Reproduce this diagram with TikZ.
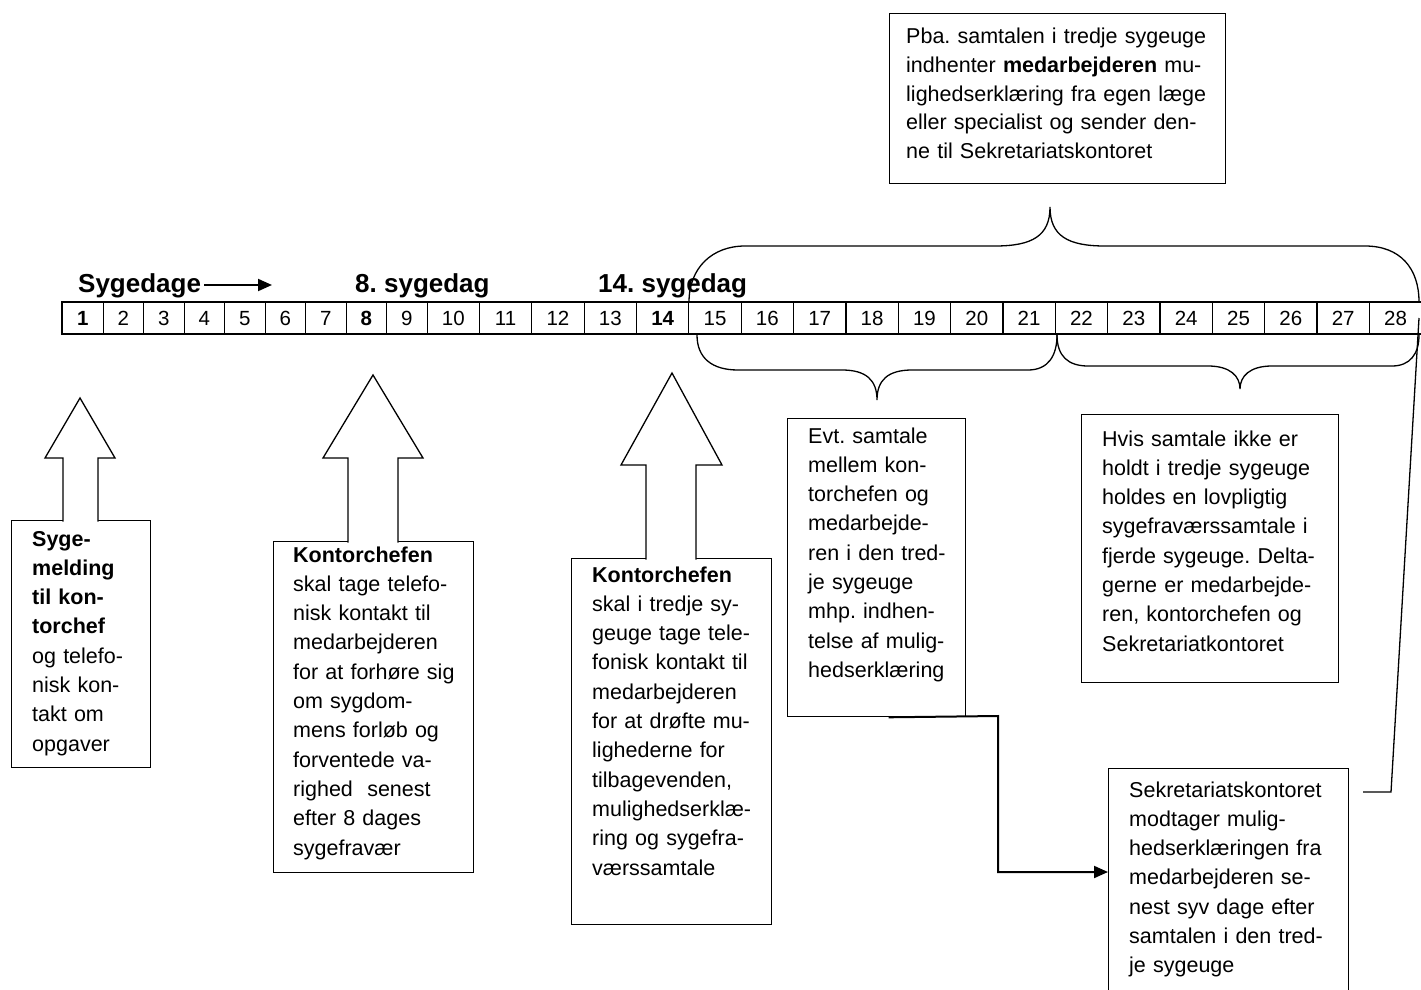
\documentclass[tikz,border=0pt]{standalone}
\usepackage{fontspec}
\setmainfont{Liberation Sans}
\usetikzlibrary{arrows.meta,calc}
\frenchspacing
\newcommand\bxf{\fontsize{21.5}{29.3}\selectfont\frenchspacing}
\newcommand\tpf{\fontsize{21.5}{28.6}\selectfont\frenchspacing}
\newcommand\hdf{\fontsize{26}{30}\selectfont\bfseries\frenchspacing}
\newcommand\clf{\fontsize{20.5}{24}\selectfont}
\begin{document}
\begin{tikzpicture}[x=1pt,y=-1pt,
 box/.style={draw, line width=1.3pt, inner sep=0pt, anchor=north west},
 txt/.style={anchor=base west, inner sep=0pt, text width=420pt, align=left, font=\bxf},
 cell/.style={draw, line width=1.2pt, inner sep=0pt, minimum height=31pt, anchor=north west, font=\clf},
 hd/.style={anchor=base west, inner sep=0pt, font=\hdf},
 brace/.style={line width=1.3pt},
 blk/.style={line width=1.3pt, fill=white, line join=miter},
 conn/.style={line width=2pt}]
\useasboundingbox (0,0) rectangle (1421,990);

% headings
\node[hd] (sd) at (78,292) {Sygedage};
\node[hd] (h8) at (355,292) {8. sygedag};
\node[hd] (h14) at (598,292) {14. sygedag};
\draw[line width=2pt, -{Triangle[length=14pt,width=12pt]}] ($(sd.base east)+(3,-7)$) -- (272,285);

% day cells
\foreach \i/\t in {1/\textbf{1},2/2,3/3,4/4,5/5,6/6,7/7,8/\textbf{8},9/9,10/10,11/11,12/12,13/13,14/\textbf{14},15/15,16/16,17/17,18/18,19/19,20/20,21/21,22/22,23/23,24/24,25/25,26/26,27/27,28/28}{
  \ifnum\i<10
    \pgfmathsetmacro\xl{62+(\i-1)*40.5}\def\w{40.5}
  \else
    \pgfmathsetmacro\xl{426.5+(\i-10)*52.35}\def\w{52.35}
  \fi
  \node[cell, minimum width=\w pt] (c\i) at (\xl,302) {\t};
}
\draw[line width=2pt] (c1.north west) rectangle (c28.south east);

% braces
\draw[brace] (689,302) .. controls (689,268) and (712,246) .. (745,246) -- (995,246)
  .. controls (1032,246) and (1050,236) .. (1050,207)
  .. controls (1050,236) and (1068,246) .. (1105,246) -- (1365,246)
  .. controls (1400,246) and (1419,268) .. (1419,302);
\draw[brace] (697,335) .. controls (697,358) and (712,370) .. (738,370) -- (842,370)
  .. controls (866,370) and (877,380) .. (877,400)
  .. controls (877,380) and (888,370) .. (912,370) -- (1028,370)
  .. controls (1048,370) and (1057,356) .. (1057,335);
\draw[brace] (1057,335) .. controls (1057,356) and (1068,366) .. (1088,366) -- (1208,366)
  .. controls (1230,366) and (1240,376) .. (1240,389)
  .. controls (1240,376) and (1250,366) .. (1272,366) -- (1392,366)
  .. controls (1410,366) and (1419,354) .. (1419,335);

% boxes
\node[box, minimum width=336pt, minimum height=170pt] (top) at (889,13) {};
\node[box, minimum width=139pt, minimum height=247pt] (b1) at (11,520) {};
\node[box, minimum width=200pt, minimum height=331pt] (b2) at (273,541) {};
\node[box, minimum width=200pt, minimum height=366pt] (b3) at (571,558) {};
\node[box, minimum width=178pt, minimum height=298pt] (evt) at (787,418) {};
\node[box, minimum width=257pt, minimum height=268pt] (hvis) at (1081,414) {};
\node[box, minimum width=240pt, minimum height=240pt] (sek) at (1108,768) {};

% block arrows
\filldraw[blk] (63,521.5) -- (63,458) -- (45,458) -- (80,398) -- (115,458) -- (98,458) -- (98,521.5);
\filldraw[blk] (348,542.5) -- (348,458) -- (323,458) -- (373,375) -- (423,458) -- (398,458) -- (398,542.5);
\filldraw[blk] (646,559.5) -- (646,465) -- (621,465) -- (672,373) -- (722,465) -- (696,465) -- (696,559.5);

% texts
\node[txt, font=\tpf] (ttop) at (906,44) {Pba. samtalen i tredje sygeuge\\indhenter \textbf{medarbejderen} mu-\\lighedserklæring fra egen læge\\eller specialist og sender den-\\ne til Sekretariatskontoret};
\node[txt] (t1) at (32,546) {{\bfseries Syge-}\\{\bfseries melding}\\{\bfseries til kon-}\\{\bfseries torchef}\\og telefo-\\nisk kon-\\takt om\\opgaver};
\node[txt] (t2) at (293,562) {{\bfseries Kontorchefen}\\skal tage telefo-\\nisk kontakt til\\medarbejderen\\for at forhøre sig\\om sygdom-\\mens forløb og\\forventede va-\\righed\ \ senest\\efter 8 dages\\sygefravær};
\node[txt] (t3) at (592,582) {{\bfseries Kontorchefen}\\skal i tredje sy-\\geuge tage tele-\\fonisk kontakt til\\medarbejderen\\for at drøfte mu-\\lighederne for\\tilbagevenden,\\mulighedserklæ-\\ring og sygefra-\\værssamtale};
\node[txt] (t4) at (808,443) {Evt. samtale\\mellem kon-\\torchefen og\\medarbejde-\\ren i den tred-\\je sygeuge\\mhp. indhen-\\telse af mulig-\\hedserklæring};
\node[txt] (t5) at (1102,446) {Hvis samtale ikke er\\holdt i tredje sygeuge\\holdes en lovpligtig\\sygefraværssamtale i\\fjerde sygeuge. Delta-\\gerne er medarbejde-\\ren, kontorchefen og\\Sekretariatkontoret};
\node[txt] (t6) at (1129,797) {Sekretariatskontoret\\modtager mulig-\\hedserklæringen fra\\medarbejderen se-\\nest syv dage efter\\samtalen i den tred-\\je sygeuge};

% connectors
\coordinate (e1) at (998,716);
\coordinate (e2) at (998,872);
\draw[conn, -{Triangle[length=14pt,width=12pt]}] ([xshift=12pt]evt.south) -- (e1) -- (e2) -- (e2 -| sek.west);
\coordinate (s1) at (1363,792);
\coordinate (s2) at (1391,792);
\coordinate (s3) at (1419,318);
\draw[line width=1.3pt] (s1) -- (s2) -- (s3);
\end{tikzpicture}
\end{document}
